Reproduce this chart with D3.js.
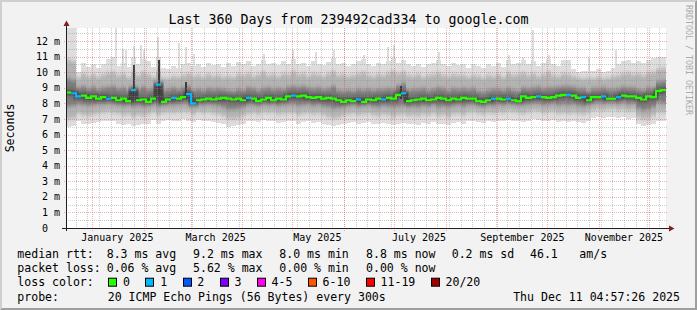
<!DOCTYPE html>
<html lang="en">
<head>
<meta charset="utf-8">
<title>SmokePing: Last 360 Days to google.com</title>
<script src="https://cdn.jsdelivr.net/npm/d3@7"></script>
<style>
  body { margin: 0; background: #f2f2f2; }
  svg { display: block; }
  svg text { font-family: "DejaVu Sans Mono", monospace; fill: #000; white-space: pre; }
</style>
</head>
<body>
<script>

// Image size and time range
var W = 697, H = 310;
var endTime = Date.UTC(2025, 11, 11, 4, 57, 26);
var startTime = endTime - 360 * 864e5;
var binDays = 3;

// Smoke: averaged sorted pings per 3-day bin (ms)
var rttMin = [
  6.5, 6.55, 6.9, 6.7, 6.65, 6.75, 6.8, 6.85, 6.9, 6.85,
  6.7, 6.6, 6.65, 6.55, 6.6, 6.65, 6.7, 6.95, 6.7, 6.9,
  6.95, 6.85, 6.9, 7.0, 6.9, 6.8, 6.95, 6.85, 6.9, 6.8,
  6.75, 6.7, 6.5, 6.55, 6.6, 6.7, 6.85, 6.9, 6.8, 6.95,
  6.85, 6.9, 6.75, 6.8, 6.9, 6.85, 6.7, 6.8, 6.9, 6.75,
  6.8, 6.7, 6.6, 6.55, 6.6, 6.7, 6.75, 6.8, 6.7, 6.75,
  6.8, 6.7, 6.65, 6.75, 6.7, 6.6, 6.7, 6.75, 6.65, 6.7,
  6.6, 6.75, 6.7, 6.8, 6.65, 6.7, 6.6, 6.75, 6.8, 6.7,
  6.85, 6.9, 6.8, 6.75, 6.85, 6.8, 6.9, 6.85, 6.95, 6.9,
  6.85, 6.8, 6.9, 7.0, 6.95, 6.85, 6.9, 6.95, 6.8, 6.85,
  6.8, 6.85, 6.8, 6.75, 6.85, 7.05, 7.1, 7.05, 7.1, 7.15,
  7.05, 7.1, 7.0, 7.05, 6.65, 6.55, 6.6, 6.7, 6.9, 6.85
];
var rttP3 = [
  7.0, 7.05, 7.35, 7.25, 7.2, 7.3, 7.35, 7.4, 7.45, 7.4,
  7.35, 7.25, 7.3, 7.15, 7.25, 7.2, 7.3, 7.45, 7.25, 7.4,
  7.45, 7.4, 7.45, 7.5, 7.45, 7.3, 7.45, 7.4, 7.45, 7.35,
  7.3, 7.2, 7.0, 7.0, 7.05, 7.2, 7.35, 7.4, 7.3, 7.45,
  7.4, 7.45, 7.3, 7.35, 7.4, 7.4, 7.25, 7.35, 7.4, 7.3,
  7.35, 7.25, 7.15, 7.05, 7.1, 7.2, 7.3, 7.35, 7.25, 7.3,
  7.35, 7.25, 7.2, 7.3, 7.25, 7.15, 7.25, 7.3, 7.2, 7.25,
  7.2, 7.3, 7.25, 7.35, 7.2, 7.25, 7.15, 7.3, 7.35, 7.25,
  7.4, 7.45, 7.35, 7.3, 7.4, 7.35, 7.45, 7.4, 7.5, 7.45,
  7.4, 7.35, 7.45, 7.55, 7.5, 7.4, 7.45, 7.5, 7.35, 7.4,
  7.35, 7.4, 7.35, 7.3, 7.4, 7.55, 7.6, 7.55, 7.6, 7.65,
  7.55, 7.6, 7.5, 7.55, 7.1, 7.0, 7.05, 7.2, 7.45, 7.4
];
var rttP6 = [
  7.8, 7.85, 7.95, 7.9, 7.85, 7.9, 7.95, 7.95, 8.0, 7.95,
  7.9, 7.85, 7.9, 7.8, 7.85, 7.8, 7.85, 7.95, 7.8, 7.9,
  7.95, 7.9, 7.95, 8.0, 7.95, 7.85, 7.95, 7.9, 7.95, 7.9,
  7.85, 7.75, 7.6, 7.6, 7.65, 7.75, 7.9, 7.9, 7.85, 7.95,
  7.9, 7.95, 7.85, 7.9, 7.95, 7.95, 7.85, 7.9, 7.95, 7.85,
  7.9, 7.8, 7.75, 7.65, 7.7, 7.75, 7.85, 7.9, 7.8, 7.85,
  7.9, 7.8, 7.75, 7.85, 7.8, 7.75, 7.8, 7.85, 7.75, 7.8,
  7.75, 7.85, 7.8, 7.9, 7.75, 7.8, 7.75, 7.85, 7.9, 7.8,
  7.9, 7.95, 7.85, 7.8, 7.9, 7.85, 7.95, 7.9, 8.0, 7.95,
  7.9, 7.9, 7.95, 8.0, 8.0, 7.9, 7.95, 8.0, 7.9, 7.95,
  7.9, 7.95, 7.85, 7.8, 7.9, 8.0, 8.05, 8.0, 8.05, 8.05,
  8.0, 8.05, 7.95, 8.0, 7.65, 7.55, 7.6, 7.75, 8.05, 8.0
];
var rttMedian = [
  8.7, 8.65, 8.45, 8.5, 8.35, 8.45, 8.3, 8.4, 8.3, 8.35,
  8.2, 8.3, 8.15, 8.85, 8.2, 8.25, 8.1, 8.3, 9.2, 8.1,
  8.25, 8.35, 8.3, 8.4, 8.6, 8.0, 8.2, 8.25, 8.3, 8.25,
  8.3, 8.35, 8.3, 8.25, 8.3, 8.2, 8.35, 8.3, 8.15, 8.25,
  8.35, 8.2, 8.3, 8.25, 8.45, 8.5, 8.45, 8.5, 8.4, 8.35,
  8.4, 8.3, 8.35, 8.3, 8.2, 8.1, 8.2, 8.15, 8.25, 8.1,
  8.25, 8.2, 8.3, 8.25, 8.35, 8.3, 8.55, 8.65, 8.15, 8.2,
  8.25, 8.3, 8.2, 8.25, 8.35, 8.3, 8.2, 8.3, 8.25, 8.35,
  8.3, 8.3, 8.15, 8.1, 8.2, 8.3, 8.3, 8.25, 8.3, 8.2,
  8.15, 8.45, 8.35, 8.4, 8.45, 8.4, 8.35, 8.4, 8.5, 8.55,
  8.55, 8.5, 8.35, 8.4, 8.2, 8.4, 8.4, 8.45, 8.3, 8.3,
  8.4, 8.5, 8.45, 8.45, 8.35, 8.25, 8.45, 8.4, 8.8, 8.85
];
var rttP15 = [
  9.6, 9.5, 9.0, 9.1, 8.95, 9.05, 8.9, 9.0, 9.05, 9.1,
  8.95, 9.0, 8.85, 9.1, 8.9, 9.05, 8.9, 8.95, 9.3, 8.85,
  8.9, 9.0, 8.9, 9.0, 9.1, 8.85, 8.9, 8.85, 8.95, 8.9,
  8.95, 8.9, 8.85, 8.8, 8.9, 8.85, 9.0, 8.95, 8.85, 8.95,
  9.0, 8.9, 8.95, 8.9, 9.05, 9.1, 9.05, 9.1, 9.0, 8.95,
  9.0, 8.9, 8.95, 9.1, 8.85, 8.8, 8.85, 8.8, 8.9, 8.85,
  8.9, 8.85, 8.9, 8.9, 8.95, 8.9, 9.15, 9.3, 8.85, 8.9,
  8.9, 8.95, 8.85, 8.9, 9.0, 8.95, 8.85, 8.95, 8.9, 8.95,
  8.9, 8.95, 8.8, 8.75, 8.85, 8.9, 8.9, 8.85, 8.95, 8.85,
  8.8, 9.0, 8.95, 9.0, 9.05, 8.95, 9.0, 9.0, 9.05, 9.1,
  9.1, 9.05, 8.95, 8.95, 8.8, 8.95, 8.95, 9.0, 8.9, 8.9,
  8.95, 9.05, 9.0, 9.0, 8.9, 8.85, 9.0, 8.95, 9.4, 9.45
];
var rttP18 = [
  10.8, 10.7, 9.65, 9.9, 9.75, 9.85, 9.7, 9.85, 9.95, 10.0,
  9.8, 9.9, 9.7, 10.0, 9.8, 10.0, 9.85, 9.7, 10.1, 9.65,
  9.6, 9.75, 9.7, 9.8, 9.9, 9.75, 9.8, 9.7, 9.85, 9.75,
  9.8, 9.7, 9.75, 9.7, 9.85, 9.8, 9.9, 9.75, 9.85, 10.0,
  9.8, 9.85, 9.75, 9.9, 9.85, 10.05, 9.85, 9.9, 9.75, 9.9,
  9.85, 9.75, 9.9, 10.05, 9.8, 9.85, 9.75, 9.8, 9.9, 10.0,
  9.8, 9.75, 9.85, 9.8, 9.95, 10.05, 9.9, 10.0, 9.8, 9.75,
  9.85, 9.7, 9.8, 9.85, 9.95, 9.8, 9.75, 9.85, 9.8, 9.8,
  9.7, 9.8, 9.75, 9.65, 9.8, 9.75, 9.85, 9.7, 9.95, 9.8,
  9.85, 9.95, 9.8, 9.9, 9.75, 9.85, 10.0, 9.8, 9.75, 9.9,
  9.85, 9.75, 9.65, 9.6, 9.65, 9.6, 9.7, 9.6, 9.65, 9.75,
  9.8, 9.9, 9.95, 9.85, 9.9, 9.8, 9.95, 10.0, 10.2, 10.25
];
var rttMax = [
  12.84, 12.84, 10.0, 10.6, 10.35, 10.55, 10.3, 10.55, 10.85, 10.95,
  10.4, 10.6, 10.35, 11.0, 10.5, 10.85, 10.7, 10.35, 11.0, 10.3,
  10.2, 10.4, 10.3, 10.5, 10.6, 10.4, 10.5, 10.35, 10.6, 10.45,
  10.5, 10.35, 10.6, 10.4, 10.65, 10.5, 10.7, 10.4, 10.55, 10.8,
  10.5, 10.6, 10.45, 10.7, 10.55, 10.85, 10.5, 10.6, 10.4, 10.7,
  10.55, 10.45, 10.65, 10.9, 10.5, 10.6, 10.4, 10.55, 10.7, 10.85,
  10.5, 10.4, 10.6, 10.5, 10.75, 10.9, 10.6, 10.8, 10.5, 10.4,
  10.55, 10.35, 10.5, 10.6, 10.8, 10.5, 10.4, 10.6, 10.45, 10.5,
  10.3, 10.5, 10.4, 10.3, 10.55, 10.4, 10.6, 10.35, 10.8, 10.5,
  10.6, 10.8, 10.5, 10.7, 10.4, 10.6, 10.85, 10.5, 10.4, 10.8,
  10.8, 10.2, 10.0, 10.05, 10.1, 10.05, 10.2, 10.0, 10.1, 10.3,
  10.5, 10.7, 10.8, 10.6, 10.75, 10.6, 10.8, 10.9, 11.0, 11.0
];

// Bins where one of the 20 pings was lost
var lossBins = [1, 2, 8, 13, 18, 21, 24, 25, 36, 45, 58, 63, 67, 85, 88, 94, 100, 103, 107, 110];

// Narrow light spikes (day offset from start, top in ms)
var spikeDay = [30, 34, 36, 41, 45, 47, 55, 68, 72, 77, 119, 136, 150, 161, 179, 193, 197, 224, 266, 274, 280, 290, 314, 330];
var spikeTop = [12.84, 11.5, 11.45, 11.7, 11.75, 11.4, 12.25, 11.9, 11.6, 11.2, 11.2, 11.4, 11.3, 11.4, 11.1, 11.6, 11.75, 11.3, 11.1, 11.0, 12.7, 11.1, 10.9, 11.4];

// Narrow dark spikes (day offset, bottom and top in ms)
var darkSpikeDay = [41, 56, 72, 201];
var darkSpikeLo = [8.4, 8.6, 8.3, 8.3];
var darkSpikeHi = [10.45, 10.8, 9.4, 9.1];

// Y axis ticks (ms)
var yTicks = [0, 1, 2, 3, 4, 5, 6, 7, 8, 9, 10, 11, 12];
var yMax = 12.84;

// Loss colour legend
var lossLabels = ["0", "1", "2", "3", "4-5", "6-10", "11-19", "20/20"];
var lossColors = ["#26ff00", "#00b8ff", "#0059ff", "#7e00ff", "#ff00ee", "#ff5500", "#ff0000", "#a10000"];

// Legend rows
var rttLabels = ["8.3 ms avg", "9.2 ms max", "8.0 ms min", "8.8 ms now", "0.2 ms sd", "46.1", "am/s"];
var lossStats = ["0.06 % avg", "5.62 % max", "0.00 % min", "0.00 % now"];

var svg = d3.select("body").append("svg")
  .attr("width", W)
  .attr("height", H);

// background and 3d frame
svg.append("rect").attr("width", W).attr("height", H).attr("fill", "#f2f2f2");
svg.append("polygon").attr("points", [[0,0],[W,0],[W-2,2],[2,2],[2,H-2],[0,H]].join(" ")).attr("fill", "#cfcfcf");
svg.append("polygon").attr("points", [[W,0],[W,H],[0,H],[2,H-2],[W-2,H-2],[W-2,2]].join(" ")).attr("fill", "#9e9e9e");

var x = d3.scaleUtc()
  .domain([new Date(startTime), new Date(endTime)])
  .range([66, 666]);
var y = d3.scaleLinear()
  .domain([0, yMax])
  .range([228, 28]);

var defs = svg.append("defs");
defs.append("clipPath").attr("id", "plot")
  .append("rect").attr("x", 66).attr("y", 28).attr("width", 600).attr("height", 200);
defs.append("filter").attr("id", "vblur")
  .attr("x", "-5%").attr("y", "-30%").attr("width", "110%").attr("height", "160%")
  .append("feGaussianBlur").attr("stdDeviation", "0 2");

// canvas
svg.append("rect").attr("x", 66).attr("y", 28).attr("width", 600).attr("height", 200).attr("fill", "#fff");

function binTime(i) { return new Date(startTime + i * binDays * 864e5); }

// step points: one per bin plus a closing point at the end
var pts = rttMedian.map(function(m, i) {
  return { t: binTime(i), min: rttMin[i], p3: rttP3[i], p6: rttP6[i], med: m,
           p15: rttP15[i], p18: rttP18[i], max: rttMax[i] };
});
pts.push(Object.assign({}, pts[pts.length - 1], { t: binTime(rttMedian.length) }));

function band(lo, hi) {
  return d3.area()
    .curve(d3.curveStepAfter)
    .x(function(d) { return x(d.t); })
    .y0(function(d) { return y(d[lo]); })
    .y1(function(d) { return y(Math.min(d[hi], yMax)); });
}

var smoke = svg.append("g").attr("clip-path", "url(#plot)");

smoke.append("path").datum(pts)
  .attr("d", band("min", "max"))
  .attr("fill", "#dddddd")
  .attr("shape-rendering", "crispEdges");

smoke.selectAll("rect.spike")
  .data(spikeDay.map(function(d, i) { return { t: new Date(startTime + d * 864e5), top: spikeTop[i] }; }))
  .enter().append("rect")
  .attr("class", "spike")
  .attr("x", function(d) { return Math.round(x(d.t)) - 1; })
  .attr("width", 2)
  .attr("y", function(d) { return y(Math.min(d.top, yMax)); })
  .attr("height", function(d) { return y(9.8) - y(Math.min(d.top, yMax)); })
  .attr("fill", "#dddddd")
  .attr("shape-rendering", "crispEdges");

var inner = smoke.append("g").attr("filter", "url(#vblur)");
inner.append("path").datum(pts)
  .attr("d", band("p3", "p18"))
  .attr("fill", "#b3b3b3");
inner.append("path").datum(pts)
  .attr("d", band("p6", "p15"))
  .attr("fill", "#7c7c7c");

// dense core around the median
var stepLine = d3.line()
  .curve(d3.curveStepAfter)
  .x(function(d) { return x(d.t); })
  .y(function(d) { return y(d.med); });
inner.append("path").datum(pts)
  .attr("d", stepLine)
  .attr("fill", "none")
  .attr("stroke", "#333")
  .attr("stroke-opacity", 0.75)
  .attr("stroke-width", 5);

smoke.selectAll("rect.dspike")
  .data(darkSpikeDay.map(function(d, i) { return { t: new Date(startTime + d * 864e5), lo: darkSpikeLo[i], hi: darkSpikeHi[i] }; }))
  .enter().append("rect")
  .attr("class", "dspike")
  .attr("x", function(d) { return Math.round(x(d.t)) - 1; })
  .attr("width", 2)
  .attr("y", function(d) { return y(d.hi); })
  .attr("height", function(d) { return y(d.lo) - y(d.hi); })
  .attr("fill", "#3c3c3c")
  .attr("shape-rendering", "crispEdges");

// grid
var grid = svg.append("g").attr("fill", "none").attr("stroke-dasharray", "1,1").attr("shape-rendering", "crispEdges");
var minorY = d3.range(0.5, yMax, 1);
grid.selectAll("line.hmin").data(minorY).enter().append("line")
  .attr("x1", 66).attr("x2", 668)
  .attr("y1", function(d) { return Math.round(y(d)) + 0.5; })
  .attr("y2", function(d) { return Math.round(y(d)) + 0.5; })
  .attr("stroke", "rgba(143,143,143,0.45)");
var weeks = d3.utcSunday.range(new Date(startTime), new Date(endTime));
grid.selectAll("line.vmin").data(weeks).enter().append("line")
  .attr("x1", function(d) { return Math.round(x(d)) + 0.5; })
  .attr("x2", function(d) { return Math.round(x(d)) + 0.5; })
  .attr("y1", 28).attr("y2", 228)
  .attr("stroke", "rgba(143,143,143,0.45)");
grid.selectAll("line.hmaj").data(yTicks.slice(1)).enter().append("line")
  .attr("x1", 64).attr("x2", 668)
  .attr("y1", function(d) { return Math.round(y(d)) + 0.5; })
  .attr("y2", function(d) { return Math.round(y(d)) + 0.5; })
  .attr("stroke", "rgba(222,79,79,0.45)");
var months = d3.utcMonth.range(new Date(startTime), new Date(endTime));
grid.selectAll("line.vmaj").data(months).enter().append("line")
  .attr("x1", function(d) { return Math.round(x(d)) + 0.5; })
  .attr("x2", function(d) { return Math.round(x(d)) + 0.5; })
  .attr("y1", 28).attr("y2", 231)
  .attr("stroke", "rgba(222,79,79,0.45)");

// median line, coloured by loss
var runs = [];
rttMedian.forEach(function(m, i) {
  var c = lossBins.indexOf(i) >= 0 ? 1 : 0;
  if (runs.length && runs[runs.length - 1].c === c) runs[runs.length - 1].idx.push(i);
  else runs.push({ c: c, idx: [i] });
});
svg.append("g").attr("clip-path", "url(#plot)")
  .selectAll("path").data(runs).enter().append("path")
  .attr("d", function(r) {
    var p = d3.path();
    r.idx.forEach(function(i, k) {
      var yy = y(rttMedian[i]);
      if (k === 0) p.moveTo(x(binTime(i)), yy); else p.lineTo(x(binTime(i)), yy);
      p.lineTo(x(binTime(i + 1)), yy);
    });
    return p.toString();
  })
  .attr("fill", "none")
  .attr("stroke", function(r) { return lossColors[r.c]; })
  .attr("stroke-width", 2.2);

// axes
svg.append("line").attr("x1", 66.5).attr("x2", 66.5).attr("y1", 25).attr("y2", 231)
  .attr("stroke", "#1f1f1f").attr("shape-rendering", "crispEdges");
svg.append("line").attr("x1", 62).attr("x2", 670).attr("y1", 228.5).attr("y2", 228.5)
  .attr("stroke", "#1f1f1f").attr("shape-rendering", "crispEdges");
svg.append("polygon").attr("points", "63.5,26 66.5,20.5 69.5,26").attr("fill", "#7f1f1f");
svg.append("polygon").attr("points", "669,225.5 674.5,228.5 669,231.5").attr("fill", "#7f1f1f");

// y tick labels
svg.selectAll("text.ylab").data(yTicks).enter().append("text")
  .attr("class", "ylab")
  .attr("x", 60)
  .attr("y", function(d) { return y(d) + 3.6; })
  .attr("text-anchor", "end")
  .style("font-size", "10px")
  .text(function(d) { return d === 0 ? "0  " : d + " m"; });

// month labels, every second month, centred half a month in
var labelMonths = months.filter(function(d) { return d.getUTCMonth() % 2 === 0; });
svg.selectAll("text.xlab").data(labelMonths).enter().append("text")
  .attr("class", "xlab")
  .attr("x", function(d) { return x(d3.utcDay.offset(d, 15)); })
  .attr("y", 241)
  .attr("text-anchor", "middle")
  .style("font-size", "10px")
  .text(d3.utcFormat("%B %Y"));

// title and side texts
svg.append("text").attr("x", W / 2).attr("y", 24).attr("text-anchor", "middle")
  .style("font-size", "13.3px")
  .text("Last 360 Days from 239492cad334 to google.com");
svg.append("text").attr("transform", "translate(14,128) rotate(-90)").attr("text-anchor", "middle")
  .style("font-size", "11.55px")
  .text("Seconds");
svg.append("text").attr("transform", "translate(685.5,5) rotate(90)")
  .style("font-size", "8.3px").style("fill", "#ababab")
  .text("RRDTOOL / TOBI OETIKER");

// legend
var lg = svg.append("g").style("font-size", "11.55px");
var rowY = [257.5, 271.8, 286.2, 300.5];
var statX = [106.7, 193, 279.3, 366, 451.7, 530, 579.3];

lg.append("text").attr("x", 17.3).attr("y", rowY[0]).text("median rtt:");
lg.selectAll("text.rtt").data(rttLabels).enter().append("text")
  .attr("x", function(d, i) { return statX[i]; }).attr("y", rowY[0]).text(function(d) { return d; });

lg.append("text").attr("x", 17.3).attr("y", rowY[1]).text("packet loss:");
lg.selectAll("text.loss").data(lossStats).enter().append("text")
  .attr("x", function(d, i) { return statX[i]; }).attr("y", rowY[1]).text(function(d) { return d; });

lg.append("text").attr("x", 17.3).attr("y", rowY[2]).text("loss color:");
var charW = 6.96, boxX = [];
lossLabels.reduce(function(bx, lab) { boxX.push(bx); return bx + 14.8 + lab.length * charW + 15.35; }, 108.3);
lg.selectAll("rect.key").data(lossLabels).enter().append("rect")
  .attr("x", function(d, i) { return Math.round(boxX[i]) + 0.5; })
  .attr("y", rowY[2] - 8)
  .attr("width", 8).attr("height", 8)
  .attr("fill", function(d, i) { return lossColors[i]; })
  .attr("stroke", "#000");
lg.selectAll("text.key").data(lossLabels).enter().append("text")
  .attr("x", function(d, i) { return boxX[i] + 14.8; })
  .attr("y", rowY[2])
  .text(function(d) { return d; });

lg.append("text").attr("x", 17.3).attr("y", rowY[3]).text("probe:");
lg.append("text").attr("x", 107.7).attr("y", rowY[3]).text("20 ICMP Echo Pings (56 Bytes) every 300s");
lg.append("text").attr("x", 680).attr("y", rowY[3]).attr("text-anchor", "end").text("Thu Dec 11 04:57:26 2025");

</script>
</body>
</html>
